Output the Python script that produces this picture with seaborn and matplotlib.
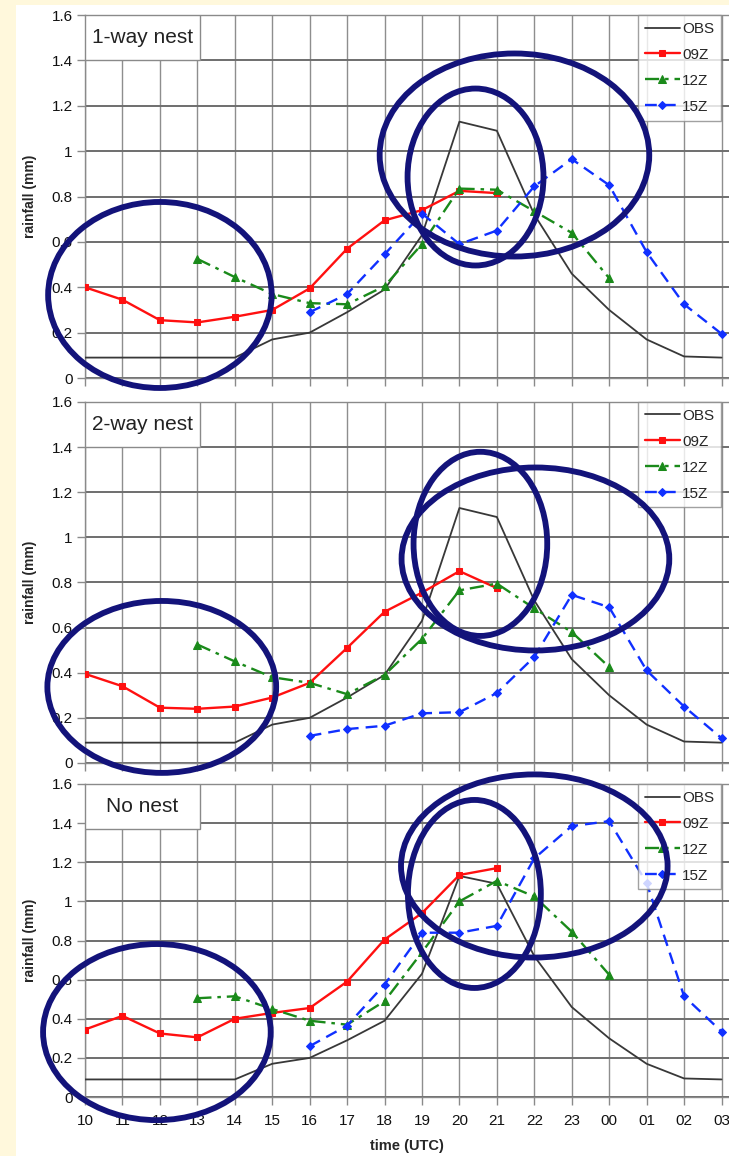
import matplotlib
matplotlib.use('Agg')
import matplotlib.pyplot as plt
from matplotlib.patches import Ellipse, Rectangle
import seaborn as sns
import numpy as np
import pandas as pd

sns.set_theme(style='white')
plt.rcParams['font.family'] = ['Liberation Sans', 'DejaVu Sans']

# horas (UTC) del eje x
hours = ["10", "11", "12", "13", "14", "15", "16", "17", "18",
         "19", "20", "21", "22", "23", "00", "01", "02", "03"]

# observado (igual en los tres paneles)
obs = [0.09, 0.09, 0.09, 0.09, 0.09, 0.17, 0.20, 0.29, 0.39,
       0.63, 1.13, 1.09, 0.72, 0.46, 0.30, 0.17, 0.095, 0.09]

# 1-way nest
p1_09z = [0.40, 0.345, 0.255, 0.245, 0.27, 0.30, 0.395, 0.57, 0.695,
          0.74, 0.825, 0.815, None, None, None, None, None, None]
p1_12z = [None, None, None, 0.525, 0.445, 0.37, 0.33, 0.325, 0.405,
          0.59, 0.835, 0.83, 0.735, 0.64, 0.44, None, None, None]
p1_15z = [None, None, None, None, None, None, 0.29, 0.37, 0.545,
          0.725, 0.59, 0.65, 0.845, 0.965, 0.85, 0.555, 0.325, 0.195]

# 2-way nest
p2_09z = [0.395, 0.34, 0.245, 0.24, 0.25, 0.29, 0.355, 0.51, 0.67,
          0.755, 0.85, 0.775, None, None, None, None, None, None]
p2_12z = [None, None, None, 0.525, 0.45, 0.38, 0.355, 0.305, 0.39,
          0.55, 0.765, 0.795, 0.685, 0.58, 0.425, None, None, None]
p2_15z = [None, None, None, None, None, None, 0.12, 0.15, 0.165,
          0.22, 0.225, 0.31, 0.47, 0.745, 0.69, 0.41, 0.25, 0.11]

# No nest
p3_09z = [0.345, 0.415, 0.325, 0.305, 0.40, 0.43, 0.455, 0.59, 0.805,
          0.94, 1.135, 1.17, None, None, None, None, None, None]
p3_12z = [None, None, None, 0.505, 0.515, 0.45, 0.39, 0.37, 0.49,
          0.74, 1.0, 1.105, 1.025, 0.845, 0.625, None, None, None]
p3_15z = [None, None, None, None, None, None, 0.26, 0.365, 0.575,
          0.84, 0.84, 0.875, 1.22, 1.385, 1.41, 1.095, 0.515, 0.335]

panel_titles = ["1-way nest", "2-way nest", "No nest"]
panel_data = [(p1_09z, p1_12z, p1_15z), (p2_09z, p2_12z, p2_15z), (p3_09z, p3_12z, p3_15z)]

# posiciones de los ejes en la figura (left, bottom, width, height)
ax_pos = [(0.1166, 0.673, 0.8834, 0.314),
          (0.1166, 0.340, 0.8834, 0.3123),
          (0.1166, 0.051, 0.8834, 0.2708)]

# elipses de resaltado (centro x, centro y, ancho, alto) en unidades de datos
ellipses = [
    [(2.0, 0.366, 5.97, 0.82), (11.47, 0.983, 7.2, 0.895), (10.43, 0.886, 3.63, 0.78)],
    [(2.05, 0.337, 6.11, 0.762), (10.56, 0.971, 3.57, 0.816), (12.03, 0.904, 7.15, 0.811)],
    [(1.92, 0.332, 6.08, 0.90), (12.0, 1.181, 7.12, 0.936), (10.4, 1.038, 3.55, 0.961)],
]

series_style = [
    ('09Z', '#ff1010', '-', 's', 4.5),
    ('12Z', '#1a8a1a', (0, (6, 2.5, 1.5, 2.5)), '^', 6),
    ('15Z', '#1030ff', (0, (5, 3)), 'D', 4),
]

fig = plt.figure(figsize=(7.29, 11.56), dpi=100, facecolor='#fff8dc')
fig.add_artist(Rectangle((16 / 729, 0), 1 - 16 / 729, 1 - 5 / 1156, transform=fig.transFigure,
                         facecolor='white', edgecolor='none', zorder=-10))

x = np.arange(len(hours))
grid_col = '#8a8a8a'

for k in range(3):
    ax = fig.add_axes(ax_pos[k])
    ax.set_facecolor('white')

    df = pd.DataFrame({'x': x, 'v': obs})
    sns.lineplot(data=df, x='x', y='v', ax=ax, color='#383838', linewidth=1.3, label='OBS', zorder=4)
    for (name, col, ls, mk, ms), vals in zip(series_style, panel_data[k]):
        df = pd.DataFrame({'x': x, 'v': pd.to_numeric(pd.Series(vals), errors='coerce')}).dropna()
        sns.lineplot(data=df, x='x', y='v', ax=ax, color=col, linestyle=ls, linewidth=1.7,
                     marker=mk, markersize=ms, markeredgecolor=col, markerfacecolor=col,
                     label=name, zorder=5)

    ax.set_xlim(0, 17.2)
    ax.set_ylim(0, 1.6)
    ax.set_xticks(x)
    ax.set_yticks(np.arange(0, 1.61, 0.2))
    ax.set_yticklabels(['0', '0.2', '0.4', '0.6', '0.8', '1', '1.2', '1.4', '1.6'])
    if k == 2:
        ax.set_xticklabels(hours)
        ax.set_xlabel('time (UTC)', fontsize=10.5, fontweight='bold', labelpad=8)
    else:
        ax.set_xticklabels([])
        ax.set_xlabel('')
    ax.set_ylabel('rainfall (mm)', fontsize=10, fontweight='bold')
    ax.yaxis.set_label_coords(-0.075, 0.5)
    ax.tick_params(axis='both', which='both', direction='out', length=6, width=1,
                   color=grid_col, labelsize=11, labelcolor='#111111', pad=3,
                   bottom=True, left=True)
    ax.tick_params(axis='x', pad=6)

    ax.grid(True, axis='y', color='#6e6e6e', linewidth=1.4, zorder=0)
    ax.grid(True, axis='x', color='#8e8e8e', linewidth=1.0, zorder=0)
    ax.set_axisbelow(True)
    for s in ['left', 'bottom', 'top']:
        ax.spines[s].set_color(grid_col)
        ax.spines[s].set_linewidth(1)
    ax.spines['right'].set_visible(False)

    # caja con el nombre del experimento
    box_h = 45 / (ax_pos[k][3] * 1156)
    ax.add_patch(Rectangle((0, 1 - box_h), 0.178, box_h, transform=ax.transAxes,
                           facecolor='white', edgecolor=grid_col, linewidth=1, zorder=6))
    ax.text(0.089, 1 - box_h / 2, panel_titles[k], transform=ax.transAxes, ha='center',
            va='center', fontsize=15, color='#222222', zorder=7)

    leg = ax.legend(loc='upper right', bbox_to_anchor=(0.988, 1.0), borderaxespad=0,
                    fontsize=11, frameon=True, fancybox=False, handlelength=2.3,
                    handletextpad=0.15, labelspacing=0.78, borderpad=0.45)
    leg.get_frame().set_edgecolor(grid_col)
    leg.get_frame().set_linewidth(1)
    leg.set_zorder(8)

    for (cx, cy, w, h) in ellipses[k]:
        ax.add_patch(Ellipse((cx, cy), w, h, facecolor='none', edgecolor='#13137a',
                             linewidth=4.2, clip_on=False, zorder=10))

fig.savefig('out.png', dpi=100, facecolor=fig.get_facecolor())
